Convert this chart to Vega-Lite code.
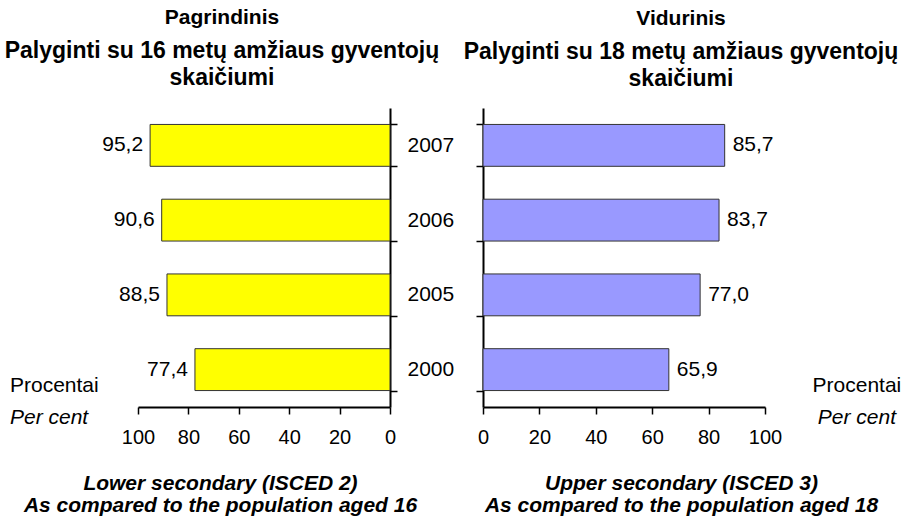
{
  "$schema": "https://vega.github.io/schema/vega-lite/v6.json",
  "autosize": {"type": "none"},
  "padding": {"left": 138, "top": 108, "right": 774, "bottom": 410},
  "background": "white",
  "bounds": "flush",
  "spacing": 93,
  "config": {
    "font": "Liberation Sans",
    "view": {"stroke": null},
    "locale": {"number": {"decimal": ",", "thousands": " ", "grouping": [3], "currency": ["", " €"]}},
    "axis": {
      "grid": false,
      "domainColor": "#000000",
      "domainWidth": 2,
      "tickColor": "#000000",
      "tickWidth": 1.5,
      "tickSize": 7,
      "labelColor": "#000000",
      "labelFont": "Liberation Sans",
      "labelFontSize": 20,
      "labelFlush": false,
      "labelOverlap": false,
      "titleColor": "#000000",
      "titleFont": "Liberation Sans"
    },
    "title": {
      "font": "Liberation Sans",
      "fontSize": 21,
      "fontWeight": "bold",
      "color": "#000000",
      "subtitleFont": "Liberation Sans",
      "subtitleFontSize": 23,
      "subtitleFontWeight": "bold",
      "subtitleColor": "#000000",
      "subtitleLineHeight": 27,
      "subtitlePadding": 12,
      "anchor": "middle",
      "frame": "group"
    },
    "text": {"font": "Liberation Sans", "fontSize": 21, "color": "#000000"}
  },
  "hconcat": [
    {
      "width": 252,
      "height": 299,
      "title": {"text": "Pagrindinis", "subtitle": ["Palyginti su 16 metų amžiaus gyventojų", "skaičiumi"], "dx": -42, "offset": 7},
      "data": {"values": [
        {"year": "2007", "value": 95.2},
        {"year": "2006", "value": 90.6},
        {"year": "2005", "value": 88.5},
        {"year": "2000", "value": 77.4}
      ]},
      "layer": [
        {
          "mark": {"type": "bar", "color": "#FFFF00", "stroke": "#333333", "strokeWidth": 1},
          "encoding": {
            "y": {"field": "year", "type": "ordinal", "sort": ["2007", "2006", "2005", "2000"],
              "scale": {"paddingInner": 0.44, "paddingOuter": 0.22},
              "axis": {"orient": "right", "title": null, "tickBand": "extent", "labelPadding": 10, "labelFontSize": 21}},
            "x": {"field": "value", "type": "quantitative",
              "scale": {"domain": [0, 100], "reverse": true, "nice": false},
              "axis": {"values": [0, 20, 40, 60, 80, 100], "labelPadding": 13,
                "title": ["Lower secondary (ISCED 2)", "As compared to the population aged 16"],
                "titleFontSize": 21, "titleFontWeight": "bold", "titleFontStyle": "italic",
                "titleLineHeight": 22, "titleX": 82, "titleY": 82, "titleAlign": "center", "titleBaseline": "alphabetic"}}
          }
        },
        {
          "mark": {"type": "text", "align": "right", "baseline": "middle", "dx": -7},
          "encoding": {
            "y": {"field": "year", "type": "ordinal", "sort": ["2007", "2006", "2005", "2000"]},
            "x": {"field": "value", "type": "quantitative"},
            "text": {"field": "value", "type": "quantitative", "format": ".1f"}
          }
        },
        {
          "data": {"values": [{"unit": "Procentai"}]},
          "mark": {"type": "text", "align": "left", "baseline": "middle", "dy": 16},
          "encoding": {"x": {"datum": 150.8}, "y": {"datum": "2000"}, "text": {"field": "unit"}}
        },
        {
          "data": {"values": [{"unit": "Per cent"}]},
          "mark": {"type": "text", "align": "left", "baseline": "middle", "dy": 48, "fontStyle": "italic"},
          "encoding": {"x": {"datum": 150.8}, "y": {"datum": "2000"}, "text": {"field": "unit"}}
        }
      ]
    },
    {
      "width": 282,
      "height": 299,
      "title": {"text": "Vidurinis", "subtitle": ["Palyginti su 18 metų amžiaus gyventojų", "skaičiumi"], "dx": 57, "offset": 17},
      "data": {"values": [
        {"year": "2007", "value": 85.7},
        {"year": "2006", "value": 83.7},
        {"year": "2005", "value": 77.0},
        {"year": "2000", "value": 65.9}
      ]},
      "layer": [
        {
          "mark": {"type": "bar", "color": "#9999FF", "stroke": "#333333", "strokeWidth": 1},
          "encoding": {
            "y": {"field": "year", "type": "ordinal", "sort": ["2007", "2006", "2005", "2000"],
              "scale": {"paddingInner": 0.44, "paddingOuter": 0.22},
              "axis": {"orient": "left", "title": null, "tickBand": "extent", "labels": false}},
            "x": {"field": "value", "type": "quantitative",
              "scale": {"domain": [0, 100], "nice": false},
              "axis": {"values": [0, 20, 40, 60, 80, 100], "labelPadding": 13,
                "title": ["Upper secondary (ISCED 3)", "As compared to the population aged 18"],
                "titleFontSize": 21, "titleFontWeight": "bold", "titleFontStyle": "italic",
                "titleLineHeight": 22, "titleX": 198, "titleY": 82, "titleAlign": "center", "titleBaseline": "alphabetic"}}
          }
        },
        {
          "mark": {"type": "text", "align": "left", "baseline": "middle", "dx": 8},
          "encoding": {
            "y": {"field": "year", "type": "ordinal", "sort": ["2007", "2006", "2005", "2000"]},
            "x": {"field": "value", "type": "quantitative"},
            "text": {"field": "value", "type": "quantitative", "format": ".1f"}
          }
        },
        {
          "data": {"values": [{"unit": "Procentai"}]},
          "mark": {"type": "text", "align": "center", "baseline": "middle", "dy": 16},
          "encoding": {"x": {"datum": 132.6}, "y": {"datum": "2000"}, "text": {"field": "unit"}}
        },
        {
          "data": {"values": [{"unit": "Per cent"}]},
          "mark": {"type": "text", "align": "center", "baseline": "middle", "dy": 48, "fontStyle": "italic"},
          "encoding": {"x": {"datum": 132.6}, "y": {"datum": "2000"}, "text": {"field": "unit"}}
        }
      ]
    }
  ]
}
